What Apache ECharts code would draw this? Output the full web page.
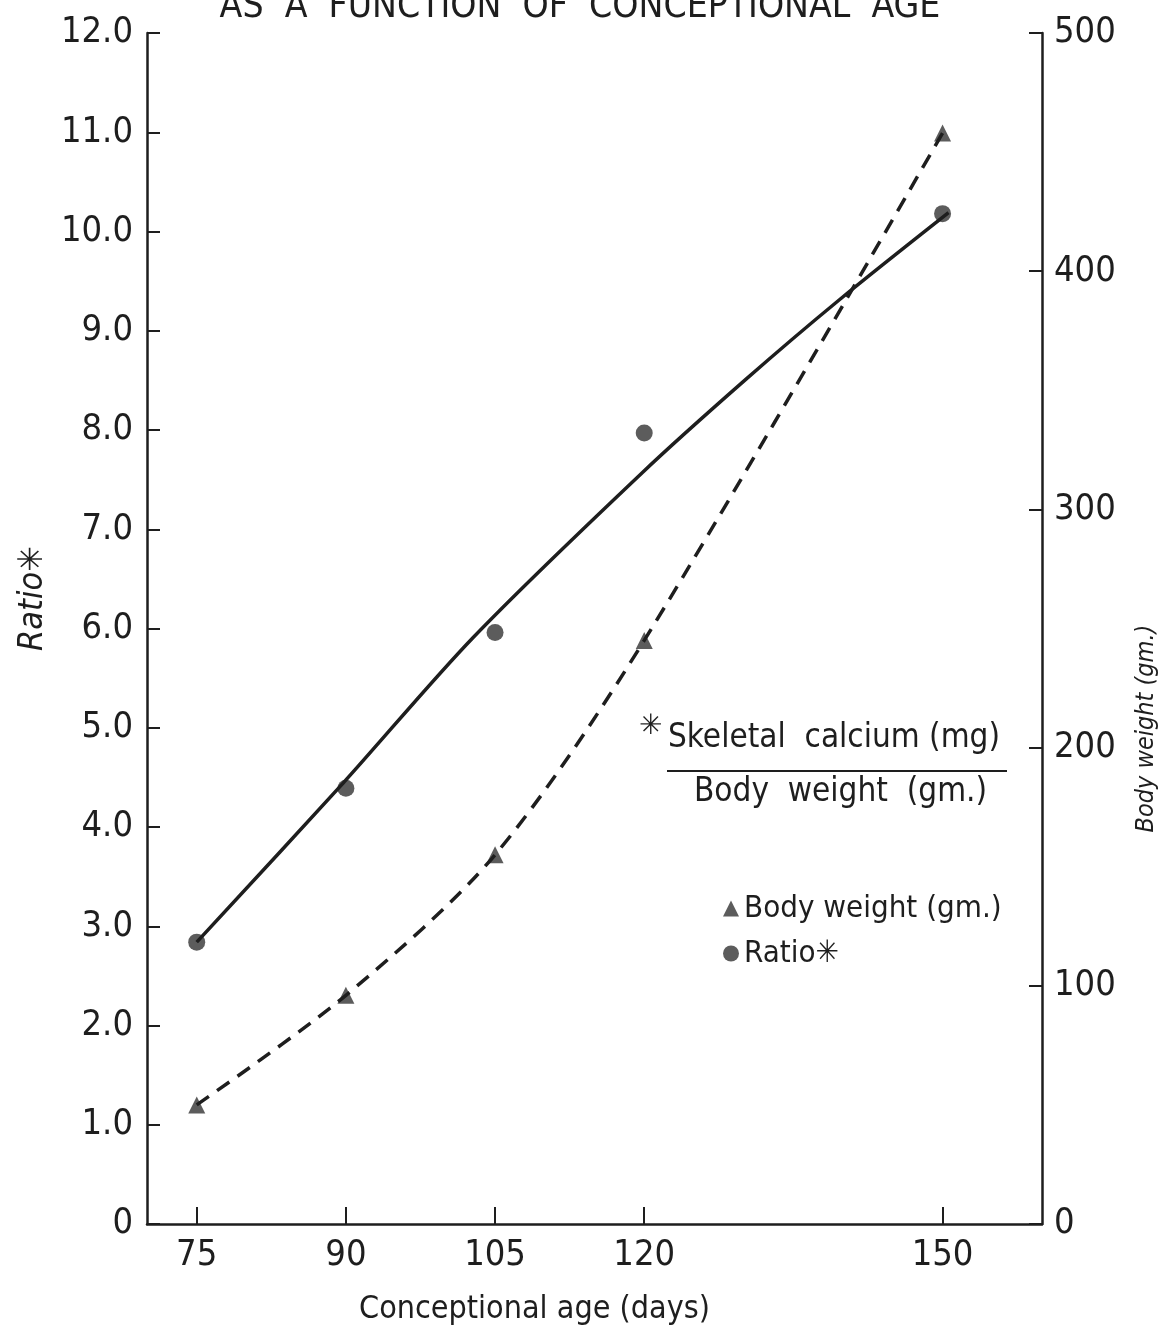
<!DOCTYPE html>
<html>
<head>
<meta charset="utf-8">
<script src="https://cdn.jsdelivr.net/npm/echarts@6/dist/echarts.min.js"></script>
<style>
  html, body { margin: 0; padding: 0; background: #fff; }
  #chart { width: 1175px; height: 1343px; }
</style>
</head>
<body>
<div id="chart"></div>
<script>
// conceptional age (days) of the measured groups
const ageDays = [75, 90, 105, 120, 150];
const ratioValues = [2.84, 4.39, 5.96, 7.97, 10.18];
const bodyWeightValues = [50, 96, 155, 245, 458];

// hand-drawn fitted curve for the ratio
const ratioCurve = [
  [75, 2.84], [89.7, 4.44], [102.8, 5.91], [119.8, 7.57],
  [130.1, 8.5], [139.6, 9.31], [150.6, 10.19]
];

const xTicks = [75, 90, 105, 120, 150];

const FONT = "'Liberation Sans Narrow', 'DejaVu Sans Condensed', sans-serif";
const INK = "#1e1e1e";

const chart = echarts.init(document.getElementById("chart"));

const option = {
  backgroundColor: "#fff",
  animation: false,
  title: {
    text: "AS  A  FUNCTION  OF  CONCEPTIONAL  AGE",
    left: 575,
    textAlign: "center",
    top: -16,
    textStyle: { fontFamily: FONT, fontSize: 37, fontWeight: "normal", color: INK }
  },
  grid: { left: 147, right: 133, top: 33, bottom: 119, containLabel: false },
  legend: {
    left: 718,
    top: 888,
    orient: "vertical",
    itemGap: 14,
    itemWidth: 16,
    itemHeight: 16,
    textStyle: { fontFamily: FONT, fontSize: 31, color: INK },
    data: [
      { name: "Body weight (gm.)", icon: "triangle" },
      { name: "Ratio✳", icon: "circle" }
    ]
  },
  xAxis: {
    type: "value",
    min: 70,
    max: 160,
    name: "Conceptional age (days)",
    nameLocation: "middle",
    nameGap: 70,
    nameTextStyle: { fontFamily: FONT, fontSize: 32, color: INK, padding: [0, 120, 0, 0] },
    axisLine: { lineStyle: { color: INK, width: 2.5 } },
    axisTick: { inside: true, length: 17, customValues: xTicks, lineStyle: { color: INK, width: 2 } },
    axisLabel: { customValues: xTicks, margin: 14, fontFamily: FONT, fontSize: 36, color: INK },
    splitLine: { show: false }
  },
  yAxis: [
    {
      type: "value",
      min: 0,
      max: 12,
      interval: 1,
      name: "Ratio✳",
      nameLocation: "middle",
      nameRotate: 90,
      nameGap: 92,
      nameTextStyle: { fontFamily: FONT, fontSize: 34, fontStyle: "italic", color: INK, padding: [0, 0, 0, 60] },
      axisLine: { show: true, lineStyle: { color: INK, width: 2.5 } },
      axisTick: { show: true, inside: true, length: 13, lineStyle: { color: INK, width: 2 } },
      axisLabel: {
        margin: 14,
        fontFamily: FONT,
        fontSize: 36,
        color: INK,
        formatter: v => (v === 0 ? "0" : v.toFixed(1))
      },
      splitLine: { show: false }
    },
    {
      type: "value",
      min: 0,
      max: 500,
      interval: 100,
      position: "right",
      name: "Body weight (gm.)",
      nameLocation: "middle",
      nameRotate: 90,
      nameGap: 92,
      nameTextStyle: { fontFamily: FONT, fontSize: 25, fontStyle: "italic", color: INK, padding: [0, 200, 0, 0] },
      axisLine: { show: true, lineStyle: { color: INK, width: 2.5 } },
      axisTick: { show: true, inside: true, length: 13, lineStyle: { color: INK, width: 2 } },
      axisLabel: { margin: 12, fontFamily: FONT, fontSize: 36, color: INK },
      splitLine: { show: false }
    }
  ],
  graphic: [
    {
      type: "text",
      left: 639,
      top: 713,
      style: { text: "✳", fontFamily: "DejaVu Sans", fontSize: 28, fill: INK }
    },
    {
      type: "text",
      left: 668,
      top: 722,
      style: { text: "Skeletal  calcium (mg)", fontFamily: FONT, fontSize: 33, fill: INK }
    },
    {
      type: "line",
      shape: { x1: 667, y1: 771, x2: 1007, y2: 771 },
      style: { stroke: INK, lineWidth: 2 }
    },
    {
      type: "text",
      left: 694,
      top: 776,
      style: { text: "Body  weight  (gm.)", fontFamily: FONT, fontSize: 33, fill: INK }
    }
  ],
  series: [
    {
      name: "ratio fit",
      type: "line",
      smooth: 0.3,
      showSymbol: false,
      silent: true,
      lineStyle: { color: INK, width: 3.5 },
      data: ratioCurve
    },
    {
      name: "Ratio✳",
      type: "scatter",
      symbol: "circle",
      symbolSize: 17,
      itemStyle: { color: "#333" },
      data: ageDays.map((d, i) => [d, ratioValues[i]])
    },
    {
      name: "body weight curve",
      type: "line",
      yAxisIndex: 1,
      smooth: 0.3,
      showSymbol: false,
      silent: true,
      lineStyle: { color: INK, width: 3.5, type: [15, 10] },
      data: ageDays.map((d, i) => [d, bodyWeightValues[i]])
    },
    {
      name: "Body weight (gm.)",
      type: "scatter",
      yAxisIndex: 1,
      symbol: "triangle",
      symbolSize: 17,
      itemStyle: { color: "#333" },
      data: ageDays.map((d, i) => [d, bodyWeightValues[i]])
    }
  ]
};

chart.setOption(option);
</script>
</body>
</html>
